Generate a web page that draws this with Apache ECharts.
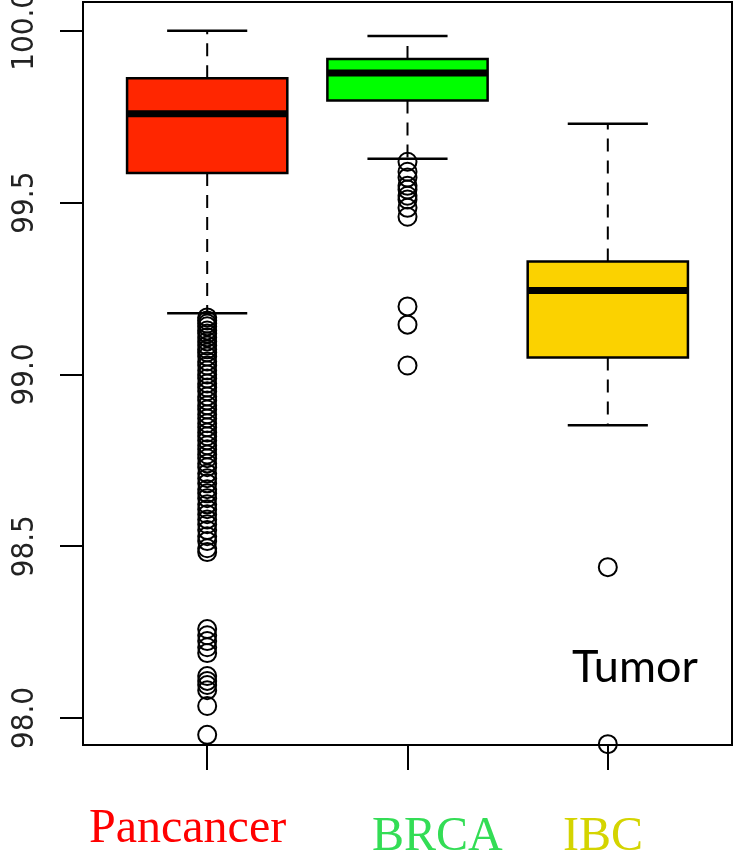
<!DOCTYPE html>
<html>
<head>
<meta charset="utf-8">
<script src="https://cdn.jsdelivr.net/npm/echarts@6/dist/echarts.min.js"></script>
<style>
  html, body { margin: 0; padding: 0; background: #fff; }
  #main { width: 738px; height: 864px; }
</style>
</head>
<body>
<div id="main"></div>
<script>
var categories = ['Pancancer', 'BRCA', 'IBC'];
var whiskerLow = [99.178, 99.628, 98.852];
var q1 = [99.586, 99.797, 99.049];
var median = [99.759, 99.877, 99.244];
var q3 = [99.862, 99.918, 99.329];
var whiskerHigh = [100.0, 99.985, 99.730];

var outPancancer = [
  99.166, 99.157, 99.148, 99.140, 99.128, 99.119, 99.108, 99.096, 99.084, 99.073,
  99.064, 99.052, 99.038, 99.026, 99.012, 99.000, 98.988, 98.974, 98.962, 98.951,
  98.936, 98.924, 98.910, 98.898, 98.884, 98.872, 98.858, 98.846, 98.831, 98.820,
  98.808, 98.794, 98.782, 98.767, 98.756, 98.741, 98.730, 98.712, 98.698, 98.683,
  98.666, 98.654, 98.640, 98.622, 98.608, 98.593, 98.578, 98.564, 98.547, 98.529,
  98.515, 98.494, 98.483,
  98.259, 98.241, 98.224, 98.206, 98.189, 98.122, 98.108, 98.096, 98.081, 98.035,
  97.951
];
var outBRCA = [99.619, 99.590, 99.573, 99.549, 99.538, 99.520, 99.509, 99.485, 99.459,
  99.198, 99.145, 99.026];
var outIBC = [98.439, 97.924];

var yTicks = [98.0, 98.5, 99.0, 99.5, 100.0];
var boxColors = ['#FF2600', '#00FF00', '#FBD200'];
var labelColors = ['#FF0000', '#33DD55', '#D4D400'];

var boxData = categories.map(function (c, i) {
    return [i + 1, whiskerLow[i], q1[i], median[i], q3[i], whiskerHigh[i]];
});
var outlierData = [];
[outPancancer, outBRCA, outIBC].forEach(function (arr, i) {
    arr.forEach(function (v) { outlierData.push([i + 1, v]); });
});

// R style box: dashed whiskers, half-width caps, thick median
function renderBox(params, api) {
    var x = api.value(0);
    var hw = 0.4;
    var cx = api.coord([x, 99])[0];
    var left = api.coord([x - hw, 99])[0];
    var right = api.coord([x + hw, 99])[0];
    var capL = api.coord([x - hw / 2, 99])[0];
    var capR = api.coord([x + hw / 2, 99])[0];
    var yLo = api.coord([x, api.value(1)])[1];
    var yQ1 = api.coord([x, api.value(2)])[1];
    var yMed = api.coord([x, api.value(3)])[1];
    var yQ3 = api.coord([x, api.value(4)])[1];
    var yHi = api.coord([x, api.value(5)])[1];
    var dashed = { stroke: '#000', lineWidth: 2, lineDash: [13, 9] };
    var solid = { stroke: '#000', lineWidth: 2.5 };
    return {
        type: 'group',
        children: [
            { type: 'line', shape: { x1: cx, y1: yQ3, x2: cx, y2: yHi }, style: dashed },
            { type: 'line', shape: { x1: cx, y1: yQ1, x2: cx, y2: yLo }, style: dashed },
            { type: 'line', shape: { x1: capL, y1: yHi, x2: capR, y2: yHi }, style: solid },
            { type: 'line', shape: { x1: capL, y1: yLo, x2: capR, y2: yLo }, style: solid },
            {
                type: 'rect',
                shape: { x: left, y: yQ3, width: right - left, height: yQ1 - yQ3 },
                style: { fill: boxColors[params.dataIndex], stroke: '#000', lineWidth: 2.5 }
            },
            { type: 'line', shape: { x1: left, y1: yMed, x2: right, y2: yMed }, style: { stroke: '#000', lineWidth: 7 } }
        ]
    };
}

// hand placed labels, as in the original figure
var labelPos = [[89, 829], [372, 837], [563, 837]];
var graphics = categories.map(function (c, i) {
    return {
        type: 'text', x: labelPos[i][0], y: labelPos[i][1],
        style: {
            text: c, fill: labelColors[i], fontSize: 48,
            fontFamily: '"Liberation Serif", "Times New Roman", serif',
            align: 'left', verticalAlign: 'middle'
        }
    };
});
graphics.push({
    type: 'text', x: 572, y: 667,
    style: { text: 'Tumor', fill: '#000', fontSize: 45, fontFamily: 'Lato, sans-serif', align: 'left', verticalAlign: 'middle' }
});

var chart = echarts.init(document.getElementById('main'));
var option = {
    animation: false,
    backgroundColor: '#fff',
    grid: {
        left: 83, right: 6, top: 2, bottom: 119,
        show: true, borderColor: '#000', borderWidth: 2,
        outerBoundsMode: 'none'
    },
    xAxis: {
        type: 'value', min: 0.38, max: 3.62,
        splitLine: { show: false },
        axisLine: { show: true, onZero: false, lineStyle: { color: '#000', width: 2 } },
        axisTick: { show: true, customValues: [1, 2, 3], length: 25, lineStyle: { color: '#000', width: 2 } },
        axisLabel: { show: false }
    },
    yAxis: {
        type: 'value', min: 97.9215, max: 100.084,
        splitLine: { show: false },
        axisLine: { show: true, onZero: false, lineStyle: { color: '#000', width: 2 } },
        axisTick: { show: true, customValues: yTicks, length: 23, lineStyle: { color: '#000', width: 2 } },
        axisLabel: {
            show: true, customValues: yTicks, rotate: 90, margin: 43,
            fontSize: 31, color: '#222',
            fontFamily: '"DejaVu Sans Condensed", sans-serif',
            formatter: function (v) { return v.toFixed(1); }
        }
    },
    series: [
        {
            type: 'custom', renderItem: renderBox, data: boxData,
            encode: { x: 0, y: [1, 2, 3, 4, 5] }, z: 2
        },
        {
            type: 'scatter', data: outlierData, symbol: 'circle', symbolSize: 18,
            itemStyle: { color: 'rgba(0,0,0,0)', borderColor: '#000', borderWidth: 2, opacity: 1 },
            z: 3
        }
    ],
    graphic: graphics
};
chart.setOption(option);
</script>
</body>
</html>
